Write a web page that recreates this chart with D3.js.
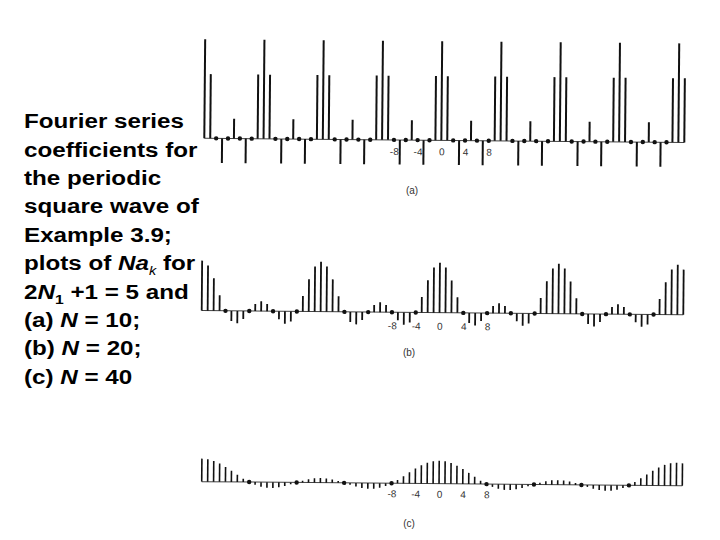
<!DOCTYPE html>
<html><head><meta charset="utf-8">
<script src="https://cdn.jsdelivr.net/npm/d3@7"></script>
<style>body{margin:0;background:#fff} svg{display:block}</style>
</head><body>
<svg id="c" width="720" height="540"></svg>
<script>
// index k of the Fourier coefficients shown in each panel
const kIndex = [-40,-39,-38,-37,-36,-35,-34,-33,-32,-31,-30,-29,-28,-27,-26,-25,-24,-23,-22,-21,
  -20,-19,-18,-17,-16,-15,-14,-13,-12,-11,-10,-9,-8,-7,-6,-5,-4,-3,-2,-1,
  0,1,2,3,4,5,6,7,8,9,10,11,12,13,14,15,16,17,18,19,
  20,21,22,23,24,25,26,27,28,29,30,31,32,33,34,35,36,37,38,39,40,41];

// N*a_k, (a) N = 10
const seriesA = [
  5,3.24,0,-1.24,0,1,0,-1.24,0,3.24,
  5,3.24,0,-1.24,0,1,0,-1.24,0,3.24,
  5,3.24,0,-1.24,0,1,0,-1.24,0,3.24,
  5,3.24,0,-1.24,0,1,0,-1.24,0,3.24,
  5,3.24,0,-1.24,0,1,0,-1.24,0,3.24,
  5,3.24,0,-1.24,0,1,0,-1.24,0,3.24,
  5,3.24,0,-1.24,0,1,0,-1.24,0,3.24,
  5,3.24,0,-1.24,0,1,0,-1.24,0,3.24,
  5,3.24];

// N*a_k, (b) N = 20
const seriesB = [
  5,4.52,3.24,1.56,0,-1,-1.24,-0.79,0,0.72,1,0.72,0,-0.79,-1.24,-1,0,1.56,3.24,4.52,
  5,4.52,3.24,1.56,0,-1,-1.24,-0.79,0,0.72,1,0.72,0,-0.79,-1.24,-1,0,1.56,3.24,4.52,
  5,4.52,3.24,1.56,0,-1,-1.24,-0.79,0,0.72,1,0.72,0,-0.79,-1.24,-1,0,1.56,3.24,4.52,
  5,4.52,3.24,1.56,0,-1,-1.24,-0.79,0,0.72,1,0.72,0,-0.79,-1.24,-1,0,1.56,3.24,4.52,
  5,4.52];

// N*a_k, (c) N = 40
const seriesC = [
  5,4.88,4.52,3.96,3.24,2.41,1.56,0.73,0,-0.59,-1,-1.22,-1.24,-1.08,-0.79,-0.41,0,0.40,0.73,0.94,
  1,0.94,0.73,0.40,0,-0.41,-0.79,-1.08,-1.24,-1.22,-1,-0.59,0,0.73,1.56,2.41,3.24,3.96,4.52,4.88,
  5,4.88,4.52,3.96,3.24,2.41,1.56,0.73,0,-0.59,-1,-1.22,-1.24,-1.08,-0.79,-0.41,0,0.40,0.73,0.94,
  1,0.94,0.73,0.40,0,-0.41,-0.79,-1.08,-1.24,-1.22,-1,-0.59,0,0.73,1.56,2.41,3.24,3.96,4.52,4.88,
  5,4.88];

const tickValues = [-8,-4,0,4,8];
const tickLabels = ["-8","-4","0","4","8"];
const panelLabels = ["(a)","(b)","(c)"];

const svg = d3.select("#c");

const layout = [
  {values: seriesA, x0:204.3, x1:684.3, y0:140.3, h:99, pad:8,  sw:2.0, lx:412, ly:194},
  {values: seriesB, x0:201.7, x1:683.3, y0:312.7, h:50, pad:10, sw:1.8, lx:409, ly:356},
  {values: seriesC, x0:201.7, x1:682.3, y0:483.7, h:23, pad:7,  sw:1.6, lx:409, ly:527}
];

layout.forEach((p, i) => {
  const x = d3.scaleLinear().domain([-40, 41]).range([p.x0, p.x1]);
  const y = d3.scaleLinear().domain([0, 5]).range([p.y0, p.y0 - p.h]);
  const cx = x(0);
  const g = svg.append("g").attr("transform", `rotate(0.5, ${cx}, ${p.y0})`);
  const pts = kIndex.map((k, j) => ({k, v: p.values[j]}));

  g.append("line")
    .attr("x1", x(-40)).attr("x2", x(41))
    .attr("y1", y(0)).attr("y2", y(0))
    .attr("stroke", "#444").attr("stroke-width", 1);

  g.selectAll("line.stem").data(pts.filter(d => d.v !== 0)).join("line")
    .attr("class", "stem")
    .attr("x1", d => x(d.k)).attr("x2", d => x(d.k))
    .attr("y1", y(0)).attr("y2", d => y(d.v))
    .attr("stroke", "#111").attr("stroke-width", p.sw);

  g.selectAll("circle").data(pts.filter(d => d.v === 0)).join("circle")
    .attr("cx", d => x(d.k)).attr("cy", y(0)).attr("r", 2.2)
    .attr("fill", "#111");

  const ax = g.append("g").attr("transform", `translate(0,${p.y0})`)
    .call(d3.axisBottom(x).tickValues(tickValues).tickSize(0).tickPadding(p.pad)
      .tickFormat((d, j) => tickLabels[j]));
  ax.select(".domain").remove();
  ax.selectAll("text").attr("font-family", "Liberation Sans, Arial, sans-serif")
    .attr("font-size", 10).attr("fill", "#333");

  svg.append("text").attr("x", p.lx).attr("y", p.ly)
    .attr("text-anchor", "middle")
    .attr("font-family", "Liberation Sans, Arial, sans-serif")
    .attr("font-size", 10).attr("fill", "#333")
    .text(panelLabels[i]);
});

// caption text block
const caption = svg.append("g")
  .attr("transform", "translate(24,0) scale(1.21,1)")
  .attr("font-family", "Liberation Sans, Arial, sans-serif")
  .attr("font-weight", "bold").attr("font-size", 20).attr("fill", "#000");

const lines = [
  [["Fourier series"]],
  [["coefficients for"]],
  [["the periodic"]],
  [["square wave of"]],
  [["Example 3.9;"]],
  [["plots of "], ["Na", "i"], ["k", "sub"], [" for"]],
  [["2"], ["N", "i"], ["1", "sub1"], [" +1 = 5 and"]],
  [["(a) "], ["N", "i"], [" = 10;"]],
  [["(b) "], ["N", "i"], [" = 20;"]],
  [["(c) "], ["N", "i"], [" = 40"]]
];
lines.forEach((parts, li) => {
  const t = caption.append("text").attr("x", 0).attr("y", 128.3 + li * 28.4);
  parts.forEach(([s, kind]) => {
    const ts = t.append("tspan").text(s);
    if (kind === "i") ts.attr("font-style", "italic");
    if (kind === "sub") ts.attr("font-style", "italic").attr("font-weight", "normal")
      .attr("font-size", 12).attr("dy", 5);
    if (kind === "sub1") ts.attr("font-size", 13).attr("dy", 5);
    if (kind === "sub" || kind === "sub1") {
      // return to baseline for the following part
      ts.attr("data-sub", 1);
    }
  });
  // reset baseline after subscripts
  t.selectAll("tspan").each(function(d, j, nodes) {
    const prev = j > 0 ? nodes[j - 1] : null;
    if (prev && prev.getAttribute("data-sub")) d3.select(this).attr("dy", -5);
  });
});
</script>
</body></html>
